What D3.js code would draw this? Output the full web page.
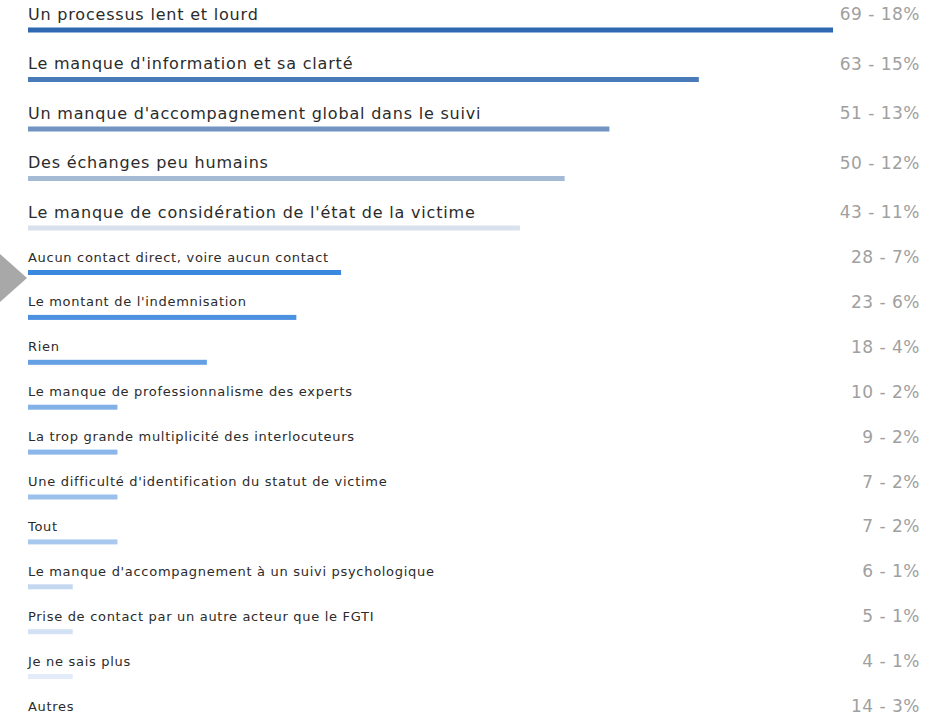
<!DOCTYPE html>
<html lang="fr">
<head>
<meta charset="utf-8">
<script src="https://cdn.jsdelivr.net/npm/d3@7"></script>
<style>
  html, body { margin: 0; padding: 0; background: #ffffff; }
  svg { display: block; }
  text { font-family: "DejaVu Sans", Verdana, sans-serif; }
</style>
</head>
<body>
<svg id="chart" width="932" height="716"></svg>
<script>
// Reasons given, with response counts and rounded shares
const categories = [
  "Un processus lent et lourd",
  "Le manque d'information et sa clarté",
  "Un manque d'accompagnement global dans le suivi",
  "Des échanges peu humains",
  "Le manque de considération de l'état de la victime",
  "Aucun contact direct, voire aucun contact",
  "Le montant de l'indemnisation",
  "Rien",
  "Le manque de professionnalisme des experts",
  "La trop grande multiplicité des interlocuteurs",
  "Une difficulté d'identification du statut de victime",
  "Tout",
  "Le manque d'accompagnement à un suivi psychologique",
  "Prise de contact par un autre acteur que le FGTI",
  "Je ne sais plus",
  "Autres"
];
const counts   = [69, 63, 51, 50, 43, 28, 23, 18, 10, 9, 7, 7, 6, 5, 4, 14];
const percents = [18, 15, 13, 12, 11, 7, 6, 4, 2, 2, 2, 2, 1, 1, 1, 3];
const barColors = [
  "#2d68b0", "#4a7bb9", "#7194c2", "#a5bbd5", "#d8e1ec",
  "#3a89df", "#4b91e0", "#65a0e5", "#82b1e8", "#8ab6ea",
  "#9cc0ec", "#a9c8ee", "#c3d7f1", "#d2e1f4", "#e2ebf7", "#e8eff8"
];
const majorCount = 5; // the first rows use the larger type

const svg = d3.select("#chart");

// row layout: larger rows first, then compact rows
const rowTop = categories.map((_, i) =>
  i < majorCount ? 14 + i * 49.5 : 257 + (i - majorCount) * 44.9);

const x = d3.scaleLinear()
  .domain([0, d3.max(percents)])
  .range([28, 833]);

const rows = svg.selectAll("g.row")
  .data(categories.map((c, i) => ({
    label: c, count: counts[i], pct: percents[i], color: barColors[i],
    major: i < majorCount, y: rowTop[i]
  })))
  .join("g")
  .attr("class", "row")
  .attr("transform", d => `translate(0,${d.y})`);

rows.append("text")
  .attr("x", 28)
  .attr("y", 0)
  .attr("dominant-baseline", "central")
  .attr("font-size", d => d.major ? 16 : 13)
  .attr("letter-spacing", d => d.major ? 0.8 : 0.7)
  .attr("fill", "#2b2b2b")
  .text(d => d.label);

rows.append("text")
  .attr("x", 920)
  .attr("y", 0)
  .attr("dominant-baseline", "central")
  .attr("text-anchor", "end")
  .attr("font-size", 17)
  .attr("letter-spacing", 0.5)
  .attr("fill", "#a0a0a0")
  .text(d => `${d.count} - ${d.pct}%`);

rows.append("rect")
  .attr("x", x(0))
  .attr("y", d => d.major ? 13.5 : 13)
  .attr("height", 5)
  .attr("width", d => x(d.pct) - x(0))
  .attr("fill", d => d.color);

// pointer marker at the left edge
svg.append("path")
  .attr("d", d3.line()([[0, 254], [27, 278], [0, 302]]) + "Z")
  .attr("fill", "#a8a8a8");
</script>
</body>
</html>
